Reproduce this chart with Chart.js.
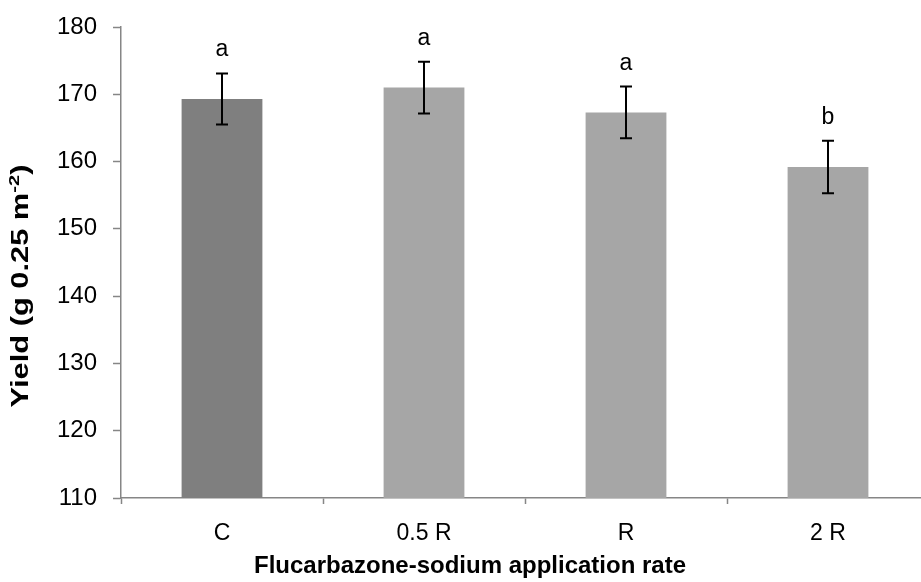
<!DOCTYPE html>
<html>
<head>
<meta charset="utf-8">
<script src="https://cdn.jsdelivr.net/npm/chart.js@4/dist/chart.umd.min.js"></script>
<style>
  html, body { margin: 0; padding: 0; background: #ffffff; overflow: hidden; }
  #wrap { width: 921px; height: 582px; overflow: hidden; position: relative; }
  canvas { display: block; }
</style>
</head>
<body>
<div id="wrap"><canvas id="yieldChart" width="940" height="582"></canvas></div>
<script>
// Treatments, mean yield, standard error and mean-separation letters
const categories = ['C', '0.5 R', 'R', '2 R'];
const yieldMean = [169.3, 171.0, 167.3, 159.2];
const yieldErr = [3.8, 3.85, 3.85, 3.9];
const groupLetters = ['a', 'a', 'a', 'b'];
const yTicks = [110, 120, 130, 140, 150, 160, 170, 180];

const barColors = ['#7f7f7f', '#a6a6a6', '#a6a6a6', '#a6a6a6'];
const FONT = "'Liberation Sans', Arial, sans-serif";
const AXIS_GRAY = '#868686';

// Error bars with caps, plus the group letters above each bar
const errorBarPlugin = {
  id: 'errorBars',
  afterDatasetsDraw(chart) {
    const ctx = chart.ctx;
    const y = chart.scales.y;
    const meta = chart.getDatasetMeta(0);
    ctx.save();
    ctx.strokeStyle = '#000000';
    ctx.lineWidth = 2;
    meta.data.forEach((bar, i) => {
      const x = Math.round(bar.x);
      const top = y.getPixelForValue(yieldMean[i] + yieldErr[i]);
      const bot = y.getPixelForValue(yieldMean[i] - yieldErr[i]);
      ctx.beginPath();
      ctx.moveTo(x, top); ctx.lineTo(x, bot);
      ctx.moveTo(x - 6, top); ctx.lineTo(x + 6, top);
      ctx.moveTo(x - 6, bot); ctx.lineTo(x + 6, bot);
      ctx.stroke();
      ctx.fillStyle = '#000000';
      ctx.font = '23px ' + FONT;
      ctx.textAlign = 'center';
      ctx.textBaseline = 'alphabetic';
      ctx.fillText(groupLetters[i], x, top - 17);
    });
    ctx.restore();
  }
};

// Axis titles (the y title carries a superscript unit)
const axisTitlePlugin = {
  id: 'axisTitles',
  afterDraw(chart) {
    const ctx = chart.ctx;
    ctx.save();
    ctx.fillStyle = '#000000';
    ctx.textBaseline = 'middle';
    ctx.textAlign = 'center';
    ctx.font = 'bold 24px ' + FONT;
    ctx.fillText('Flucarbazone-sodium application rate', 470, 566);

    const mainPart = 'Yield (g 0.25 m';
    const supPart = '-2';
    const tailPart = ')';
    const bold = 'bold 23px ' + FONT;
    const supFont = 'bold 15px ' + FONT;
    ctx.font = bold;
    const w1 = ctx.measureText(mainPart).width;
    const w3 = ctx.measureText(tailPart).width;
    ctx.font = supFont;
    const w2 = ctx.measureText(supPart).width;
    const total = w1 + w2 + w3;
    ctx.translate(22, 286);
    ctx.rotate(-Math.PI / 2);
    ctx.scale(1.34, 1);
    ctx.textAlign = 'left';
    let cx = -total / 2;
    ctx.font = bold;
    ctx.fillText(mainPart, cx, 0);
    cx += w1;
    ctx.font = supFont;
    ctx.fillText(supPart, cx, -7);
    cx += w2;
    ctx.font = bold;
    ctx.fillText(tailPart, cx, 0);
    ctx.restore();
  }
};

new Chart(document.getElementById('yieldChart'), {
  type: 'bar',
  data: {
    labels: categories,
    datasets: [{
      data: yieldMean,
      backgroundColor: barColors,
      borderWidth: 0,
      barPercentage: 0.4,
      categoryPercentage: 1.0
    }]
  },
  options: {
    responsive: false,
    animation: false,
    devicePixelRatio: 1,
    layout: { padding: { left: 0, right: 11, top: 27, bottom: 0 } },
    plugins: {
      legend: { display: false },
      tooltip: { enabled: false },
      title: { display: false }
    },
    scales: {
      x: {
        offset: true,
        grid: {
          offset: true,
          drawOnChartArea: false,
          tickLength: 6,
          tickColor: AXIS_GRAY,
          tickWidth: 1.5,
          color: AXIS_GRAY
        },
        border: { color: AXIS_GRAY, width: 1.5 },
        ticks: {
          color: '#000000',
          font: { family: FONT, size: 23 },
          padding: 16,
          maxRotation: 0
        },
        afterFit(scale) {
          scale.height = 84;
          scale.paddingLeft = 0;
          scale.paddingRight = 0;
        }
      },
      y: {
        min: yTicks[0],
        max: yTicks[yTicks.length - 1],
        afterBuildTicks(scale) { scale.ticks = yTicks.map(v => ({ value: v })); },
        grid: {
          drawOnChartArea: false,
          tickLength: 8,
          tickColor: AXIS_GRAY,
          tickWidth: 1.5,
          color: AXIS_GRAY
        },
        border: { color: AXIS_GRAY, width: 1.5 },
        ticks: {
          color: '#000000',
          font: { family: FONT, size: 24 },
          padding: 16
        },
        afterFit(scale) {
          scale.width = 121;
          scale.paddingTop = 0;
          scale.paddingBottom = 0;
        }
      }
    }
  },
  plugins: [errorBarPlugin, axisTitlePlugin]
});
</script>
</body>
</html>
